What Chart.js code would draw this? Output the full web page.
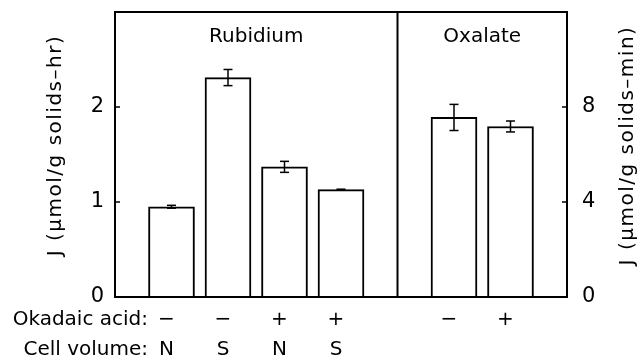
<!DOCTYPE html>
<html><head><meta charset="utf-8">
<script src="https://cdn.jsdelivr.net/npm/chart.js@4/dist/chart.umd.min.js"></script>
<style>html,body{margin:0;padding:0;background:#fff}#wrap{width:644px;height:362px}</style>
</head><body><div id="wrap"><canvas id="c" width="644" height="362"></canvas></div>
<script>
// ---- data ----
const xPositions = [1, 2, 3, 4, 6, 7];
const okadaicLabels = ['−', '−', '+', '+', '−', '+'];
const cellVolumeLabels = ['N', 'S', 'N', 'S', '', ''];
const rubidiumX = [1, 2, 3, 4];
const rubidiumValues = [0.95, 2.31, 1.37, 1.13];
const rubidiumErrors = [0.015, 0.085, 0.058, 0.005];
const oxalateX = [6, 7];
const oxalateValues = [7.56, 7.18];
const oxalateErrors = [0.55, 0.23];
const leftTicks = [0, 1, 2];
const rightTicks = [0, 4, 8];
const panelTitles = ['Rubidium', 'Oxalate'];
const panelBounds = [[0, 5], [5, 8]];
const dividerX = 5;
const rowHeaders = ['Okadaic acid:', 'Cell volume:'];
const leftTitle = 'J (μmol/g solids–hr)';
const rightTitle = 'J (μmol/g solids–min)';

const FONT = '"DejaVu Sans", sans-serif';

const deco = {
  id: 'deco',
  afterDatasetsDraw(chart) {
    const ctx = chart.ctx, a = chart.chartArea;
    const xs = chart.scales.x, yl = chart.scales.y, yr = chart.scales.y2;
    const line = (x1, y1, x2, y2) => { ctx.beginPath(); ctx.moveTo(x1, y1); ctx.lineTo(x2, y2); ctx.stroke(); };
    ctx.save();
    ctx.strokeStyle = '#000';
    ctx.lineWidth = 2;
    ctx.strokeRect(a.left, a.top, a.right - a.left, a.bottom - a.top);
    const dx = xs.getPixelForValue(dividerX);
    line(dx, a.top, dx, a.bottom);
    // inward tick marks
    ctx.lineWidth = 1.5;
    leftTicks.forEach(v => { const y = yl.getPixelForValue(v); line(a.left, y, a.left + 5, y); });
    rightTicks.forEach(v => { const y = yr.getPixelForValue(v); line(a.right - 5, y, a.right, y); });
    // error bars
    const eb = (scale, xv, v, e) => {
      const x = xs.getPixelForValue(xv);
      const y1 = scale.getPixelForValue(v + e), y2 = scale.getPixelForValue(v - e);
      line(x, y1, x, y2);
      line(x - 4.5, y1, x + 4.5, y1);
      line(x - 4.5, y2, x + 4.5, y2);
    };
    rubidiumX.forEach((xv, i) => eb(yl, xv, rubidiumValues[i], rubidiumErrors[i]));
    oxalateX.forEach((xv, i) => eb(yr, xv, oxalateValues[i], oxalateErrors[i]));
    // panel titles
    ctx.fillStyle = '#000';
    ctx.font = '20px ' + FONT;
    ctx.textAlign = 'center';
    ctx.textBaseline = 'alphabetic';
    panelTitles.forEach((t, i) => {
      const cx = (xs.getPixelForValue(panelBounds[i][0]) + xs.getPixelForValue(panelBounds[i][1])) / 2;
      ctx.fillText(t, cx, a.top + 30);
    });
    // row headers
    ctx.font = '20px ' + FONT;
    ctx.textAlign = 'right';
    ctx.textBaseline = 'middle';
    rowHeaders.forEach((t, i) => ctx.fillText(t, 148, a.bottom + 23 + i * 30));
    // axis titles (both read bottom-to-top)
    ctx.font = '20px ' + FONT;
    try { ctx.letterSpacing = '1.5px'; } catch (e) {}
    ctx.textAlign = 'center';
    const cy = (a.top + a.bottom) / 2 - 9;
    ctx.save(); ctx.translate(56, cy); ctx.rotate(-Math.PI / 2); ctx.fillText(leftTitle, 0, 0); ctx.restore();
    ctx.save(); ctx.translate(628, cy); ctx.rotate(-Math.PI / 2); ctx.fillText(rightTitle, 0, 0); ctx.restore();
    ctx.restore();
  }
};

const zeroPad = s => { s.paddingTop = 0; s.paddingBottom = 0; s.paddingLeft = 0; s.paddingRight = 0; };

new Chart(document.getElementById('c'), {
  type: 'bar',
  data: {
    datasets: [
      {
        label: 'Rubidium',
        data: rubidiumX.map((x, i) => ({ x: x, y: rubidiumValues[i] })),
        yAxisID: 'y',
        backgroundColor: '#fff', borderColor: '#000', borderWidth: 2,
        barThickness: 46
      },
      {
        label: 'Oxalate',
        data: oxalateX.map((x, i) => ({ x: x, y: oxalateValues[i] })),
        yAxisID: 'y2',
        backgroundColor: '#fff', borderColor: '#000', borderWidth: 2,
        barThickness: 46
      }
    ]
  },
  options: {
    responsive: false,
    animation: false,
    grouped: false,
    layout: { padding: { top: 12, left: 0, right: 0, bottom: 0 } },
    plugins: { legend: { display: false }, tooltip: { enabled: false } },
    scales: {
      x: {
        type: 'linear', min: 0, max: 8, offset: false,
        grid: { display: false, drawTicks: false }, border: { display: false },
        afterBuildTicks: s => { s.ticks = xPositions.map(v => ({ value: v })); },
        afterFit: s => { s.height = 65; zeroPad(s); },
        ticks: {
          autoSkip: false, maxRotation: 0, minRotation: 0, padding: 8, labelOffset: -5,
          color: '#000', font: { family: FONT, size: 20, lineHeight: 1.5 },
          callback: v => {
            const i = xPositions.indexOf(v);
            if (i < 0) return '';
            return cellVolumeLabels[i] ? [okadaicLabels[i], cellVolumeLabels[i]] : [okadaicLabels[i]];
          }
        }
      },
      y: {
        position: 'left', min: 0, max: 3,
        grid: { display: false, drawTicks: false }, border: { display: false },
        afterBuildTicks: s => { s.ticks = leftTicks.map(v => ({ value: v })); },
        afterFit: s => { s.width = 115; zeroPad(s); },
        ticks: { padding: 11, color: '#000', font: { family: FONT, size: 21 } }
      },
      y2: {
        position: 'right', min: 0, max: 12,
        grid: { display: false, drawTicks: false }, border: { display: false },
        afterBuildTicks: s => { s.ticks = rightTicks.map(v => ({ value: v })); },
        afterFit: s => { s.width = 77; zeroPad(s); },
        ticks: { padding: 15, color: '#000', font: { family: FONT, size: 21 } }
      }
    }
  },
  plugins: [deco]
});
</script>
</body></html>
